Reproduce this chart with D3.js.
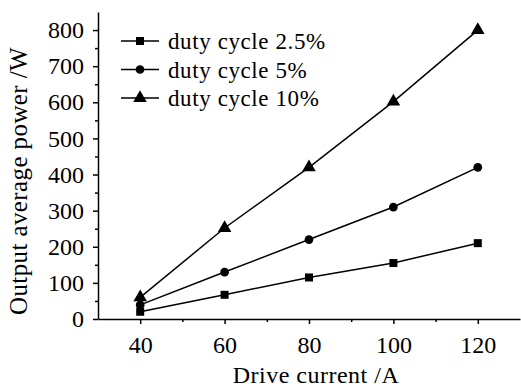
<!DOCTYPE html>
<html>
<head>
<meta charset="utf-8">
<script src="https://cdn.jsdelivr.net/npm/d3@7"></script>
<style>
body { margin: 0; background: #fff; }
</style>
</head>
<body>
<svg width="521" height="387"></svg>
<script>
var current = [40, 60, 80, 100, 120];
var duty25 = [20, 67, 115, 155, 210];
var duty5 = [39, 130, 220, 310, 420];
var duty10 = [60, 252, 420, 602, 800];
var seriesNames = ["duty cycle 2.5%", "duty cycle 5%", "duty cycle 10%"];
var xTicks = [40, 60, 80, 100, 120];
var yTicks = [0, 100, 200, 300, 400, 500, 600, 700, 800];

var FONT = "'Liberation Serif', 'Times New Roman', serif";

var svg = d3.select("svg");
var margin = {top: 12, right: 1, bottom: 68, left: 98};
var width = +svg.attr("width") - margin.left - margin.right,
	height = +svg.attr("height") - margin.top - margin.bottom;

var x = d3.scaleLinear().domain([30, 130]).range([0, width]);
var y = d3.scaleLinear().domain([0, 850]).range([height, 0]);

var g = svg.append("g")
	.attr("transform", "translate(" + margin.left + "," + margin.top + ")");

// minor ticks
g.append("g")
	.attr("transform", "translate(0," + height + ")")
	.call(d3.axisBottom(x).tickValues(d3.range(50, 130, 20)).tickSize(3).tickFormat(""))
	.call(function(s) { s.select(".domain").remove(); });
g.append("g")
	.call(d3.axisLeft(y).tickValues(d3.range(50, 850, 100)).tickSize(3).tickFormat(""))
	.call(function(s) { s.select(".domain").remove(); });

var xAxis = g.append("g")
	.attr("transform", "translate(0," + height + ")")
	.call(d3.axisBottom(x).tickValues(xTicks).tickSize(5).tickSizeOuter(0).tickPadding(12));

var yAxis = g.append("g")
	.call(d3.axisLeft(y).tickValues(yTicks).tickSize(5).tickSizeOuter(0).tickPadding(9));

g.selectAll(".tick text")
	.style("font-family", FONT)
	.style("font-size", "24px")
	.attr("fill", "#000");
g.selectAll(".domain, .tick line").attr("stroke", "#000").attr("stroke-width", 1.5);

svg.append("text")
	.attr("x", 316)
	.attr("y", 383)
	.attr("text-anchor", "middle")
	.style("font-family", FONT)
	.style("font-size", "24px")
	.style("letter-spacing", "0.5px")
	.text("Drive current /A");

svg.append("text")
	.attr("transform", "translate(27,181) rotate(-90)")
	.attr("text-anchor", "middle")
	.style("font-family", FONT)
	.style("font-size", "25px")
	.style("letter-spacing", "0.4px")
	.text("Output average power /W");

var series = [duty25, duty5, duty10];
var symbols = [d3.symbolSquare, d3.symbolCircle, d3.symbolTriangle];
var sizes = [64, 60, 80];

var line = d3.line()
	.x(function(d, i) { return x(current[i]); })
	.y(function(d) { return y(d); });

series.forEach(function(vals, k) {
	g.append("path")
		.datum(vals)
		.attr("fill", "none")
		.attr("stroke", "#000")
		.attr("stroke-width", 1.5)
		.attr("d", line);
	g.selectAll(".pt" + k)
		.data(vals)
		.enter().append("path")
		.attr("class", "pt" + k)
		.attr("transform", function(d, i) { return "translate(" + x(current[i]) + "," + y(d) + ")"; })
		.attr("d", d3.symbol().type(symbols[k]).size(sizes[k]));
});

var legend = svg.append("g").attr("transform", "translate(121,41)");
seriesNames.forEach(function(name, k) {
	var row = legend.append("g").attr("transform", "translate(0," + (k * 28.5) + ")");
	row.append("line").attr("x1", 0).attr("x2", 38).attr("stroke", "#000").attr("stroke-width", 1.5);
	row.append("path").attr("transform", "translate(19,0)")
		.attr("d", d3.symbol().type(symbols[k]).size(sizes[k]));
	row.append("text").attr("x", 47).attr("y", 8)
		.style("font-family", FONT)
		.style("font-size", "23px")
		.style("letter-spacing", "0.6px")
		.text(name);
});
</script>
</body>
</html>
